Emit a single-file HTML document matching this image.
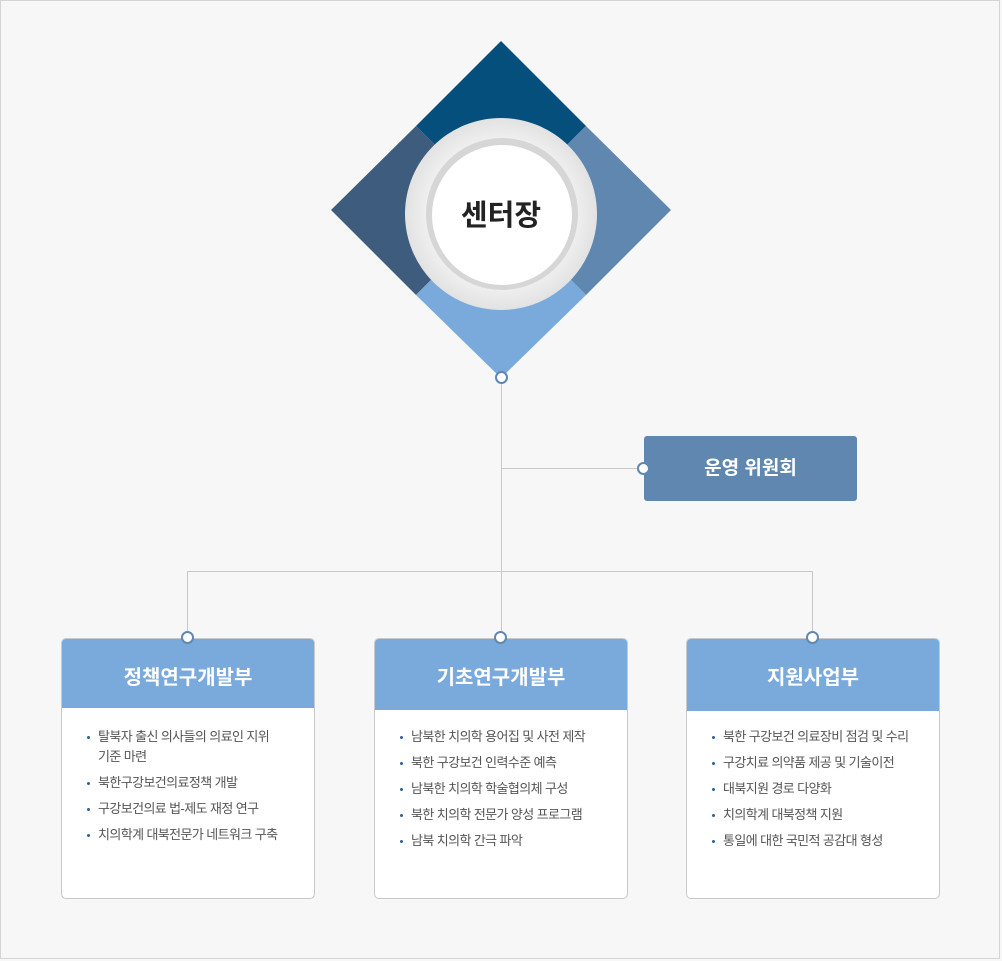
<!DOCTYPE html>
<html><head><meta charset="utf-8"><style>
*{margin:0;padding:0;box-sizing:border-box}
body{width:1002px;height:961px;background:#f7f7f7;font-family:"Liberation Sans","Noto Sans CJK KR",sans-serif;position:relative;overflow:hidden}
.frame{position:absolute;left:0;top:0;width:1000px;height:959px;border:1px solid #d4d4d4}
.a{position:absolute}
.ln{position:absolute;background:#c8c8c8}
.dot{position:absolute;width:13px;height:13px;border-radius:50%;background:#fff;border:2px solid #5f87b0}
.box{position:absolute;top:638px;width:254px;height:261px;background:#fff;border:1px solid #c9c9c9;border-radius:5px;overflow:hidden}
.box .h{height:70px;background:#7aaadc;color:#fff;font-size:20px;font-weight:bold;text-align:center;line-height:78px}
.box ul{list-style:none;padding:19px 0 0 25px}
.box li{position:relative;padding-left:11px;font-size:13px;letter-spacing:-0.6px;color:#555;line-height:20px;margin-bottom:6px}
.box li:before{content:"";position:absolute;left:0;top:9px;width:3px;height:3px;background:#2f5f95;border-radius:50%}
</style></head><body>
<div class="frame"></div>
<svg class="a" style="left:0;top:0" width="1002" height="961">
<polygon points="501,41 586,126 501,210 416,126" fill="#044f7c"/>
<polygon points="416,126 501,210 416,295 331,210" fill="#3e5d7e"/>
<polygon points="586,126 671,210 586,295 501,210" fill="#5f87b0"/>
<polygon points="501,210 586,295 501,378 416,295" fill="#7aaadc"/>
<defs><radialGradient id="g" cx="50%" cy="50%" r="50%"><stop offset="70%" stop-color="#f4f4f4"/><stop offset="100%" stop-color="#e2e2e2"/></radialGradient></defs>
<circle cx="501" cy="214" r="96" fill="url(#g)"/>
<circle cx="502" cy="214" r="76" fill="#d6d6d6"/>
<circle cx="502" cy="215" r="70" fill="#fff"/>
<text x="501" y="225" text-anchor="middle" font-size="29" font-weight="bold" fill="#222" font-family="Liberation Sans, Noto Sans CJK KR, sans-serif">센터장</text>
</svg>
<div class="ln" style="left:501px;top:378px;width:1px;height:260px"></div>
<div class="ln" style="left:501px;top:468px;width:143px;height:1px"></div>
<div class="ln" style="left:187px;top:571px;width:626px;height:1px"></div>
<div class="ln" style="left:187px;top:571px;width:1px;height:66px"></div>
<div class="ln" style="left:812px;top:571px;width:1px;height:66px"></div>
<div class="a" style="left:644px;top:436px;width:213px;height:65px;background:#5f87b0;border-radius:3px;color:#fff;font-size:19px;font-weight:bold;text-align:center;line-height:65px">운영 위원회</div>
<div class="box" style="left:61px"><div class="h" style="height:69px">정책연구개발부</div><ul>
<li>탈북자 출신 의사들의 의료인 지위<br>기준 마련</li><li>북한구강보건의료정책 개발</li><li>구강보건의료 법-제도 재정 연구</li><li>치의학계 대북전문가 네트워크 구축</li></ul></div>
<div class="box" style="left:374px"><div class="h" style="height:71px">기초연구개발부</div><ul style="padding-top:17px">
<li>남북한 치의학 용어집 및 사전 제작</li><li>북한 구강보건 인력수준 예측</li><li>남북한 치의학 학술협의체 구성</li><li>북한 치의학 전문가 양성 프로그램</li><li>남북 치의학 간극 파악</li></ul></div>
<div class="box" style="left:686px"><div class="h" style="height:72px">지원사업부</div><ul style="padding-top:16px">
<li>북한 구강보건 의료장비 점검 및 수리</li><li>구강치료 의약품 제공 및 기술이전</li><li>대북지원 경로 다양화</li><li>치의학계 대북정책 지원</li><li>통일에 대한 국민적 공감대 형성</li></ul></div>
<div class="dot" style="left:495px;top:371px"></div>
<div class="dot" style="left:637px;top:462px"></div>
<div class="dot" style="left:181px;top:631px"></div>
<div class="dot" style="left:494px;top:631px"></div>
<div class="dot" style="left:806px;top:631px"></div>
</body></html>
